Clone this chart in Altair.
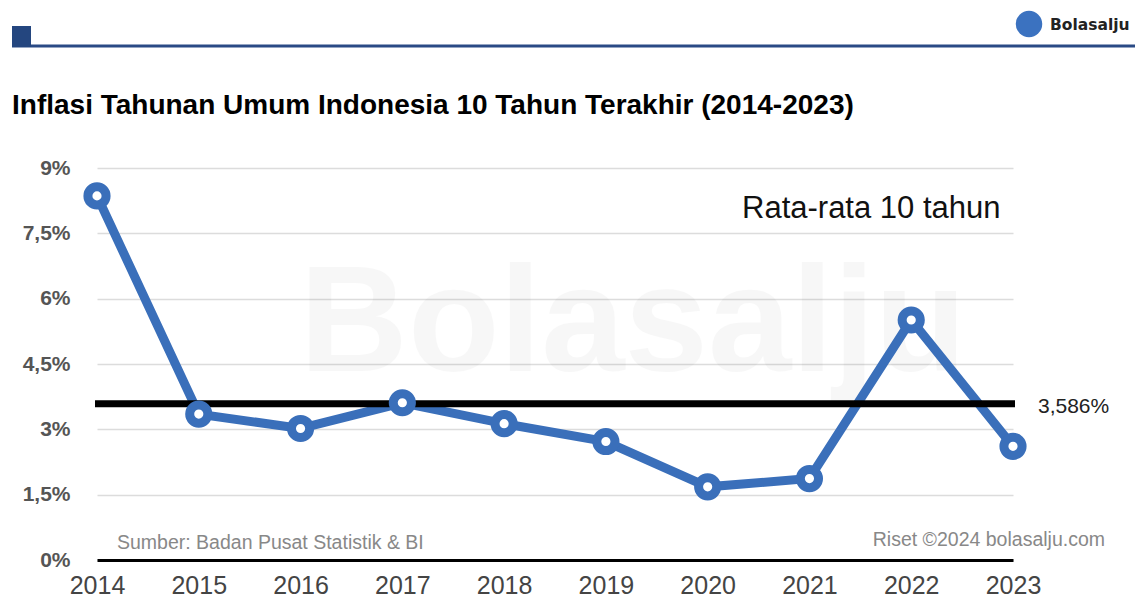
import altair as alt
import pandas as pd

years = ["2014", "2015", "2016", "2017", "2018", "2019", "2020", "2021", "2022", "2023"]
inflation = [8.36, 3.35, 3.02, 3.61, 3.13, 2.72, 1.68, 1.87, 5.51, 2.61]
average = 3.586
y_ticks = [0, 1.5, 3, 4.5, 6, 7.5, 9]

df = pd.DataFrame({"Tahun": years, "Inflasi": inflation})
avg_df = pd.DataFrame({"avg": [average], "label": ["3,586%"]})

W, H = 916, 392
FONT = "Liberation Sans"
BLUE = "#3a6fba"

x_enc = alt.X(
    "Tahun:O",
    scale=alt.Scale(type="point", padding=0),
    axis=alt.Axis(
        title=None, labelAngle=0, labelFontSize=25, labelColor="#444", labelFont=FONT,
        labelPadding=13, ticks=False, domainColor="#000", domainWidth=3, grid=False,
    ),
)
y_scale = alt.Scale(domain=[0, 9])
y_enc = alt.Y(
    "Inflasi:Q",
    scale=y_scale,
    axis=alt.Axis(
        title=None, values=y_ticks, labelFontSize=21, labelFontWeight="bold", labelColor="#555",
        labelFont=FONT, labelPadding=27, ticks=False, domain=False, gridColor="#dcdcdc", gridWidth=1.5,
        labelExpr="replace(format(datum.value, '.1~f'), '.', ',') + '%'",
    ),
)

base = alt.Chart(df)

watermark = alt.Chart(pd.DataFrame({"t": ["Bolasalju"]})).mark_text(
    font=FONT, fontSize=150, fontWeight="bold", color="#000", opacity=0.028, align="center", baseline="alphabetic"
).encode(text="t:N", x=alt.value(536), y=alt.value(203))

line = base.mark_line(color=BLUE, strokeWidth=9).encode(x=x_enc, y=y_enc)

avg_rule = alt.Chart(avg_df).mark_rule(color="#000", strokeWidth=7).encode(
    y=alt.Y("avg:Q", scale=y_scale), x=alt.value(-2), x2=alt.value(918)
)

points = base.mark_point(
    shape="circle", size=330, filled=False, fill="white", fillOpacity=1, stroke=BLUE, strokeWidth=9, opacity=1
).encode(x=x_enc, y=y_enc)

avg_label = alt.Chart(avg_df).mark_text(
    font=FONT, fontSize=21, color="#222", align="left", baseline="middle", dy=3
).encode(text="label:N", y=alt.Y("avg:Q", scale=y_scale), x=alt.value(941))

def txt(s, x, y, size, color="#000", weight="normal", align="left", font=FONT):
    return alt.Chart(pd.DataFrame({"t": [s]})).mark_text(
        font=font, fontSize=size, fontWeight=weight, color=color, align=align, baseline="alphabetic"
    ).encode(text="t:N", x=alt.value(x), y=alt.value(y))

rata = txt("Rata-rata 10 tahun", 645, 50, 31, "#111")
title = txt("Inflasi Tahunan Umum Indonesia 10 Tahun Terakhir (2014-2023)", -85, -54, 28, "#000", "bold")
src = txt("Sumber: Badan Pusat Statistik & BI", 20, 381, 19.5, "#888")
riset = txt("Riset ©2024 bolasalju.com", 1008, 378, 19.5, "#888", align="right")
logo_txt = txt("Bolasalju", 953, -138, 15.5, "#222", "bold", font="DejaVu Sans")

header_line = alt.Chart(pd.DataFrame({"a": [0]})).mark_rule(color="#2a4a85", strokeWidth=3).encode(
    x=alt.value(-85), x2=alt.value(1038), y=alt.value(-122)
)
header_sq = alt.Chart(pd.DataFrame({"a": [0]})).mark_rect(color="#24467f").encode(
    x=alt.value(-85), x2=alt.value(-66), y=alt.value(-142), y2=alt.value(-121)
)
logo_dot = alt.Chart(pd.DataFrame({"a": [0]})).mark_point(
    shape="circle", filled=True, color="#3b72c0", size=700, opacity=1
).encode(x=alt.value(932), y=alt.value(-144))

chart = alt.layer(
    watermark, line, avg_rule, points, avg_label, rata, title, src, riset,
    header_line, header_sq, logo_dot, logo_txt,
).properties(
    width=W, height=H,
    autosize=alt.AutoSizeParams(type="none"),
    padding={"left": 97, "top": 168, "right": 129, "bottom": 40},
    background="white",
).configure_view(stroke=None)

chart.save("out.html", embed_options={"renderer": "svg", "actions": False})
